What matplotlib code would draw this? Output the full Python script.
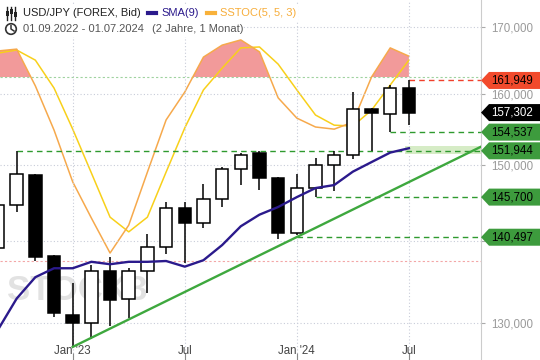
import matplotlib
matplotlib.use("Agg")
import numpy as np
import matplotlib.pyplot as plt
from matplotlib.patches import Polygon, Rectangle, Circle
from matplotlib.lines import Line2D
from matplotlib.transforms import IdentityTransform
from matplotlib.ticker import FixedLocator, FuncFormatter, NullLocator

plt.rcParams["font.family"] = ["Liberation Sans", "DejaVu Sans"]

# monthly candles Sep 2022 .. Jul 2024 (USD/JPY)
months = ["Sep 22", "Oct 22", "Nov 22", "Dec 22", "Jan 23", "Feb 23", "Mar 23", "Apr 23",
          "May 23", "Jun 23", "Jul 23", "Aug 23", "Sep 23", "Oct 23", "Nov 23", "Dec 23",
          "Jan 24", "Feb 24", "Mar 24", "Apr 24", "May 24", "Jun 24", "Jul 24"]
opens = [139.1, 144.7, 148.7, 138.1, 130.9, 130.0, 136.2, 132.8, 136.3, 139.3, 144.3, 142.3,
         145.5, 149.4, 151.6, 148.2, 141.0, 146.9, 150.0, 151.35, 157.8, 157.1, 160.9]
highs = [145.9, 151.944, 148.8, 138.2, 134.8, 137.0, 138.0, 136.6, 140.9, 145.1, 145.0, 147.4,
         149.7, 151.7, 151.9, 148.4, 148.8, 150.9, 151.97, 160.2, 157.99, 161.3, 161.949]
lows = [139.0, 143.8, 137.5, 130.7, 127.2, 128.1, 129.6, 130.6, 133.6, 138.4, 137.2, 141.7,
        144.4, 147.3, 146.7, 140.3, 140.8, 145.7, 146.5, 150.8, 151.86, 154.537, 155.5]
closes = [144.7, 148.8, 138.0, 131.2, 130.0, 136.2, 132.7, 136.3, 139.3, 144.3, 142.3, 145.5,
          149.4, 151.3, 148.2, 141.0, 146.9, 150.0, 151.35, 157.8, 157.3, 160.9, 157.302]

sma9 = [129.2, 132.9, 135.5, 136.6, 136.6, 137.4, 137.1, 137.4, 137.4, 137.5, 136.8, 137.6,
        139.5, 141.9, 143.4, 144.4, 145.7, 146.9, 147.3, 149.1, 150.4, 151.7, 152.3]

# slow stochastic (5,5,3): %K (orange) and %D (yellow)
stoch_k = [88.5, 89.1, 77.1, 62.7, 45.8, 34.0, 22.6, 31.7, 49.0, 66.0, 75.1, 86.5,
           90.4, 92.1, 88.2, 73.2, 66.6, 63.7, 63.0, 65.3, 80.0, 89.5, 86.8]
stoch_d = [87.8, 88.8, 85.5, 76.4, 63.0, 48.7, 34.3, 29.5, 34.3, 49.0, 63.4, 75.8,
           82.9, 89.5, 89.8, 84.2, 75.8, 67.6, 64.3, 64.0, 69.2, 77.4, 85.5]

tick_idx = [4, 10, 16, 22]
tick_labels = ["Jan '23", "Jul", "Jan '24", "Jul"]
price_ticks = [130, 140, 150, 160, 170]
hidden_price_labels = [140]   # covered by the 140,497 tag in the original

# horizontal marks: price, first candle, colour
level_prices = [161.949, 154.537, 151.944, 145.700, 140.497]
level_start = [22, 21, 1, 17, 16]
level_colors = ["#f0402c", "#2f9a2f", "#2f9a2f", "#2f9a2f", "#2f9a2f"]
last_price = 157.302

trend_idx = [4, 22]
trend_prices = [127.2, 147.7]
zone_start, zone_lo, zone_hi = 21.8, 151.5, 152.6

W, H, AX_R = 540, 360, 481
XLIM = (0.107, 25.86)
YLIM = (125.7, 174.2)

fig = plt.figure(figsize=(W / 100, H / 100), dpi=100, facecolor="white")
ax = fig.add_axes([0, 0, AX_R / W, 1])
ax2 = ax.twinx()
ax.set_zorder(2)
ax2.set_zorder(1)
ax.patch.set_visible(False)
ax2.patch.set_visible(False)

x = np.arange(len(months))

# --- stochastic overlay (own 0..100 scale) ---
k = np.array(stoch_k)
ax2.fill_between(x, k, 80, where=k > 80, interpolate=True, color="#f29a9a", lw=0, zorder=1)
ax2.plot(x, stoch_d, color="#f8d01a", lw=1.1, zorder=2)
ax2.plot(x, stoch_k, color="#f6a94c", lw=1.1, zorder=2)
ax2.axhline(80, color="#9fd29f", lw=0.8, ls=(0, (2, 2)), zorder=1)
ax2.axhline(20, color="#f3a6a6", lw=0.8, ls=(0, (2, 2)), zorder=1)
ax2.set_ylim(-12.29, 105.12)
ax2.yaxis.set_visible(False)
for s in ax2.spines.values():
    s.set_visible(False)
ax2.text(7 / AX_R, 1 - 291 / H, "STOCK3", transform=ax2.transAxes, fontsize=25,
         fontweight="bold", color="#e2e2e2", va="center", ha="left", zorder=0)

# --- price panel ---
ax.set_yscale("log")
ax.set_xlim(*XLIM)
ax.set_ylim(*YLIM)

ax.fill_between([zone_start, XLIM[1]], zone_lo, zone_hi, color="#d6ecc6", lw=0, zorder=2)

for p, s0, c in zip(level_prices, level_start, level_colors):
    ax.plot([s0, XLIM[1]], [p, p], color=c, lw=1.0, ls=(0, (4, 3)), zorder=2)

o = np.array(opens); c_ = np.array(closes)
up = c_ >= o
ax.vlines(x, lows, highs, color="black", lw=1.1, zorder=3)
ax.bar(x, np.abs(c_ - o), bottom=np.minimum(o, c_), width=0.67,
       color=np.where(up, "white", "black"), edgecolor="black", linewidth=1.1, zorder=4)

# trend line through two lows, extended to the right edge (straight on log scale)
slope = (np.log(trend_prices[1]) - np.log(trend_prices[0])) / (trend_idx[1] - trend_idx[0])
tx = np.array([trend_idx[0], XLIM[1]])
ax.plot(tx, np.exp(np.log(trend_prices[0]) + slope * (tx - trend_idx[0])),
        color="#3ea83e", lw=1.7, zorder=5)

ax.plot(x, sma9, color="#2b1a8c", lw=1.7, zorder=6)

# axes styling
def price_fmt(v, _):
    if round(v) in hidden_price_labels:
        return ""
    return f"{v:.3f}".replace(".", ",")

ax.yaxis.tick_right()
ax.yaxis.set_major_locator(FixedLocator(price_ticks))
ax.yaxis.set_minor_locator(NullLocator())
ax.yaxis.set_major_formatter(FuncFormatter(price_fmt))
ax.tick_params(axis="y", direction="out", length=3, width=0.8, color="#aaaaaa",
               labelsize=8.3, labelcolor="#9a9a9a", pad=4)
ax.set_xticks(tick_idx)
ax.set_xticklabels(tick_labels)
ax.tick_params(axis="x", direction="in", length=5, width=0.8, color="#888888",
               labelsize=8.3, labelcolor="#444444", pad=-10.5)
ax.grid(True, color="#c8ccd8", lw=0.8, ls=(0, (1, 2)))
for side in ["left", "top", "bottom"]:
    ax.spines[side].set_visible(False)
ax.spines["right"].set_color("#cccccc")
ax.spines["right"].set_linewidth(0.8)

# --- price tags on the right ---
def tag(price, face, tcolor):
    yd = ax.transData.transform((1, price))[1]
    pts = [(AX_R, yd), (AX_R + 8, yd + 8.5), (W, yd + 8.5), (W, yd - 8.5), (AX_R + 8, yd - 8.5)]
    fig.add_artist(Polygon(pts, closed=True, transform=IdentityTransform(),
                           facecolor=face, edgecolor="none", zorder=10))
    fig.text(491 / W, yd / H, f"{price:.3f}".replace(".", ","), color=tcolor,
             fontsize=8.3, va="center", ha="left", zorder=11)

tag(level_prices[0], "#f24a2c", "black")
tag(last_price, "black", "white")
for p in level_prices[1:]:
    tag(p, "#3d9b3d", "black")

# --- legend header ---
fig.add_artist(Rectangle((0, H - 22), 298, 18, transform=IdentityTransform(),
                         facecolor="white", edgecolor="none", zorder=8))
fig.add_artist(Rectangle((0, H - 37), 243, 16, transform=IdentityTransform(),
                         facecolor="white", edgecolor="none", zorder=8))

# candlestick icon
for cx, b0, b1 in [(7, 11, 16), (11, 9, 14), (15, 12, 17)]:
    fig.add_artist(Line2D([cx, cx], [H - 20, H - 7], color="#222222", lw=1,
                          transform=IdentityTransform(), zorder=9))
    fig.add_artist(Rectangle((cx - 1.5, H - b1), 3, b1 - b0, transform=IdentityTransform(),
                             facecolor="#222222", edgecolor="none", zorder=9))
# clock icon
fig.add_artist(Circle((11, H - 29), 5.3, transform=IdentityTransform(), facecolor="white",
                      edgecolor="#333333", lw=1.2, zorder=9))
fig.add_artist(Line2D([11, 11, 14], [H - 25.5, H - 29, H - 31], color="#333333", lw=1.1,
                      transform=IdentityTransform(), zorder=9))

def htext(px, py, s, color):
    fig.text(px / W, 1 - py / H, s, color=color, fontsize=8, va="center", ha="left", zorder=9)

htext(23, 13.3, "USD/JPY (FOREX, Bid)", "#222222")
fig.add_artist(Line2D([148, 156], [H - 13.3, H - 13.3], color="#2b1a8c", lw=3,
                      transform=IdentityTransform(), zorder=9))
htext(161, 13.3, "SMA(9)", "#2b1a8c")
fig.add_artist(Line2D([207, 215], [H - 13.3, H - 13.3], color="#f8b13a", lw=3,
                      transform=IdentityTransform(), zorder=9))
htext(220, 13.3, "SSTOC(5, 5, 3)", "#f7ad3a")
htext(23, 29.3, "01.09.2022 - 01.07.2024", "#555555")
htext(152, 29.3, "(2 Jahre, 1 Monat)", "#555555")

fig.savefig("out.png", dpi=100, facecolor="white")
